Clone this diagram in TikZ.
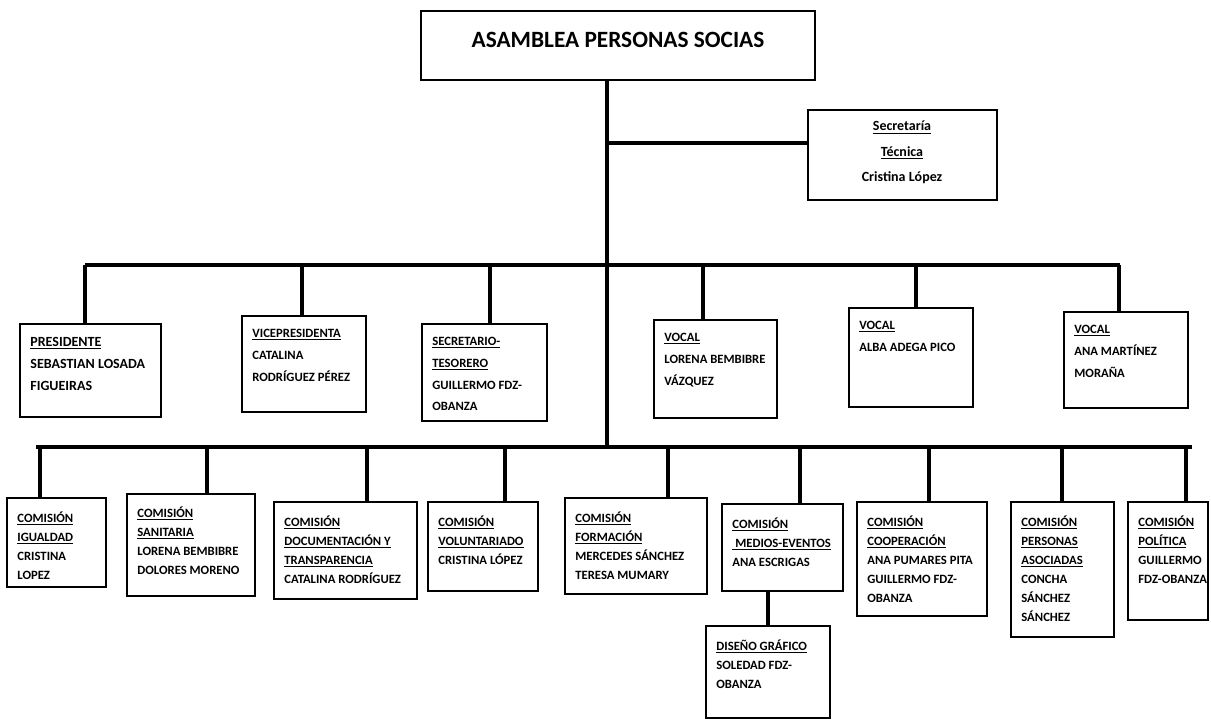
\documentclass[tikz,border=0pt]{standalone}
\usepackage{fontspec}
\setmainfont{Carlito}
\usetikzlibrary{fit}
\begin{document}
\begin{tikzpicture}[x=0.75pt,y=-0.75pt,
    caja/.style={draw,line width=1.3pt,inner sep=0pt},
    linea/.style={line width=2.8pt},
    cargo/.style={anchor=north west,inner sep=0pt,align=left,
      font=\bfseries\fontsize{9.5}{16.3}\selectfont,
      execute at begin node=\rule{0pt}{10pt}},
    comision/.style={cargo,font=\bfseries\fontsize{9.5}{14.3}\selectfont},
    titulo/.style={anchor=base,inner sep=0pt,font=\bfseries\fontsize{17.5}{20}\selectfont}]
    \path[fill=white,use as bounding box] (0,0) rectangle (1211,720);

    % asamblea y secretaria
    \node[caja,fit={(421,11) (815,80)}] (asamblea) {};
    \node[titulo] (asamblea-t) at (618,48) {ASAMBLEA PERSONAS SOCIAS};
    \node[caja,fit={(808,110) (997,200)}] (secretaria) {};
    \node[anchor=north,inner sep=0pt,align=center,font=\bfseries\fontsize{10.5}{19}\selectfont,
      execute at begin node=\rule{0pt}{10pt}] (secretaria-t) at (902,121)
      {\underline{Secretaría}\\\underline{Técnica}\\Cristina López};

    % junta directiva
    \node[caja,fit={(20,324) (161,417)}] (presidente) {};
    \node[caja,fit={(242,316) (366,412)}] (vicepresidenta) {};
    \node[caja,fit={(422,324) (547,421)}] (secretario) {};
    \node[caja,fit={(654,320) (777,418)}] (vocal1) {};
    \node[caja,fit={(849,308) (973,407)}] (vocal2) {};
    \node[caja,fit={(1064,312) (1188,408)}] (vocal3) {};
    \node[cargo,font=\bfseries\fontsize{10.5}{16.3}\selectfont] (presidente-t) at ([shift={(11,14)}]presidente.north west)
      {\underline{PRESIDENTE}\\SEBASTIAN LOSADA\\FIGUEIRAS};
    \node[cargo] (vicepresidenta-t) at ([shift={(11,14)}]vicepresidenta.north west)
      {\underline{VICEPRESIDENTA}\\CATALINA\\RODRÍGUEZ PÉREZ};
    \node[cargo] (secretario-t) at ([shift={(11,14)}]secretario.north west)
      {\underline{SECRETARIO-}\\\underline{TESORERO}\\GUILLERMO FDZ-\\OBANZA};
    \node[cargo] (vocal1-t) at ([shift={(11,14)}]vocal1.north west)
      {\underline{VOCAL}\\LORENA BEMBIBRE\\VÁZQUEZ};
    \node[cargo] (vocal2-t) at ([shift={(11,14)}]vocal2.north west)
      {\underline{VOCAL}\\ALBA ADEGA PICO};
    \node[cargo] (vocal3-t) at ([shift={(11,14)}]vocal3.north west)
      {\underline{VOCAL}\\ANA MARTÍNEZ\\MORAÑA};

    % comisiones
    \node[caja,fit={(7,498) (106,587)}] (igualdad) {};
    \node[caja,fit={(127,494) (255,596)}] (sanitaria) {};
    \node[caja,fit={(274,502) (417,599)}] (documentacion) {};
    \node[caja,fit={(428,502) (538,591)}] (voluntariado) {};
    \node[caja,fit={(565,498) (707,594)}] (formacion) {};
    \node[caja,fit={(722,504) (843,591)}] (medios) {};
    \node[caja,fit={(857,502) (987,616)}] (cooperacion) {};
    \node[caja,fit={(1011,502) (1114,637)}] (personas) {};
    \node[caja,fit={(1128,502) (1208,620)}] (politica) {};
    \node[caja,fit={(706,626) (830,718)}] (diseno) {};
    \node[comision] (igualdad-t) at ([shift={(11,14)}]igualdad.north west)
      {\underline{COMISIÓN}\\\underline{IGUALDAD}\\CRISTINA\\LOPEZ};
    \node[comision] (sanitaria-t) at ([shift={(11,13)}]sanitaria.north west)
      {\underline{COMISIÓN}\\\underline{SANITARIA}\\LORENA BEMBIBRE\\DOLORES MORENO};
    \node[comision] (documentacion-t) at ([shift={(11,14)}]documentacion.north west)
      {\underline{COMISIÓN}\\\underline{DOCUMENTACIÓN Y}\\\underline{TRANSPARENCIA}\\CATALINA RODRÍGUEZ};
    \node[comision] (voluntariado-t) at ([shift={(11,14)}]voluntariado.north west)
      {\underline{COMISIÓN}\\\underline{VOLUNTARIADO}\\CRISTINA LÓPEZ};
    \node[comision] (formacion-t) at ([shift={(11,14)}]formacion.north west)
      {\underline{COMISIÓN}\\\underline{FORMACIÓN}\\MERCEDES SÁNCHEZ\\TERESA MUMARY};
    \node[comision] (medios-t) at ([shift={(11,14)}]medios.north west)
      {\underline{COMISIÓN}\\\underline{\ MEDIOS-EVENTOS}\\ANA ESCRIGAS};
    \node[comision] (cooperacion-t) at ([shift={(11,14)}]cooperacion.north west)
      {\underline{COMISIÓN}\\\underline{COOPERACIÓN}\\ANA PUMARES PITA\\GUILLERMO FDZ-\\OBANZA};
    \node[comision] (personas-t) at ([shift={(11,14)}]personas.north west)
      {\underline{COMISIÓN}\\\underline{PERSONAS}\\\underline{ASOCIADAS}\\CONCHA\\SÁNCHEZ\\SÁNCHEZ};
    \node[comision] (politica-t) at ([shift={(11,14)}]politica.north west)
      {\underline{COMISIÓN}\\\underline{POLÍTICA}\\GUILLERMO\\FDZ-OBANZA};
    \node[comision] (diseno-t) at ([shift={(11,14)}]diseno.north west)
      {\underline{DISEÑO GRÁFICO}\\SOLEDAD FDZ-\\OBANZA};

    % lineas
    \coordinate (e1) at (607,143);
    \coordinate (b1l) at (85,265);
    \coordinate (b1r) at (1120,265);
    \coordinate (b2l) at (36,447);
    \coordinate (b2r) at (1192,447);
    \draw[linea] (asamblea.south -| e1) -- (e1 |- b2l);
    \draw[linea] (e1) -- (secretaria.west |- e1);
    \draw[linea] (b1l) -- (b1r);
    \draw[linea] (b2l) -- (b2r);
    \coordinate (c1) at (85,265);
    \coordinate (c2) at (302,265);
    \coordinate (c3) at (490,265);
    \coordinate (c4) at (703,265);
    \coordinate (c5) at (916,265);
    \coordinate (c6) at (1119,265);
    \draw[linea] (c1) -- (c1 |- presidente.north);
    \draw[linea] (c2) -- (c2 |- vicepresidenta.north);
    \draw[linea] (c3) -- (c3 |- secretario.north);
    \draw[linea] (c4) -- (c4 |- vocal1.north);
    \draw[linea] (c5) -- (c5 |- vocal2.north);
    \draw[linea] (c6) -- (c6 |- vocal3.north);
    \coordinate (d1) at (40,447);
    \coordinate (d2) at (207,447);
    \coordinate (d3) at (367,447);
    \coordinate (d4) at (505,447);
    \coordinate (d5) at (668,447);
    \coordinate (d6) at (800,447);
    \coordinate (d7) at (929,447);
    \coordinate (d8) at (1062,447);
    \coordinate (d9) at (1186,447);
    \draw[linea] (d1) -- (d1 |- igualdad.north);
    \draw[linea] (d2) -- (d2 |- sanitaria.north);
    \draw[linea] (d3) -- (d3 |- documentacion.north);
    \draw[linea] (d4) -- (d4 |- voluntariado.north);
    \draw[linea] (d5) -- (d5 |- formacion.north);
    \draw[linea] (d6) -- (d6 |- medios.north);
    \draw[linea] (d7) -- (d7 |- cooperacion.north);
    \draw[linea] (d8) -- (d8 |- personas.north);
    \draw[linea] (d9) -- (d9 |- politica.north);
    \coordinate (f1) at (768,591);
    \draw[linea] (f1) -- (f1 |- diseno.north);
\end{tikzpicture}
\end{document}
